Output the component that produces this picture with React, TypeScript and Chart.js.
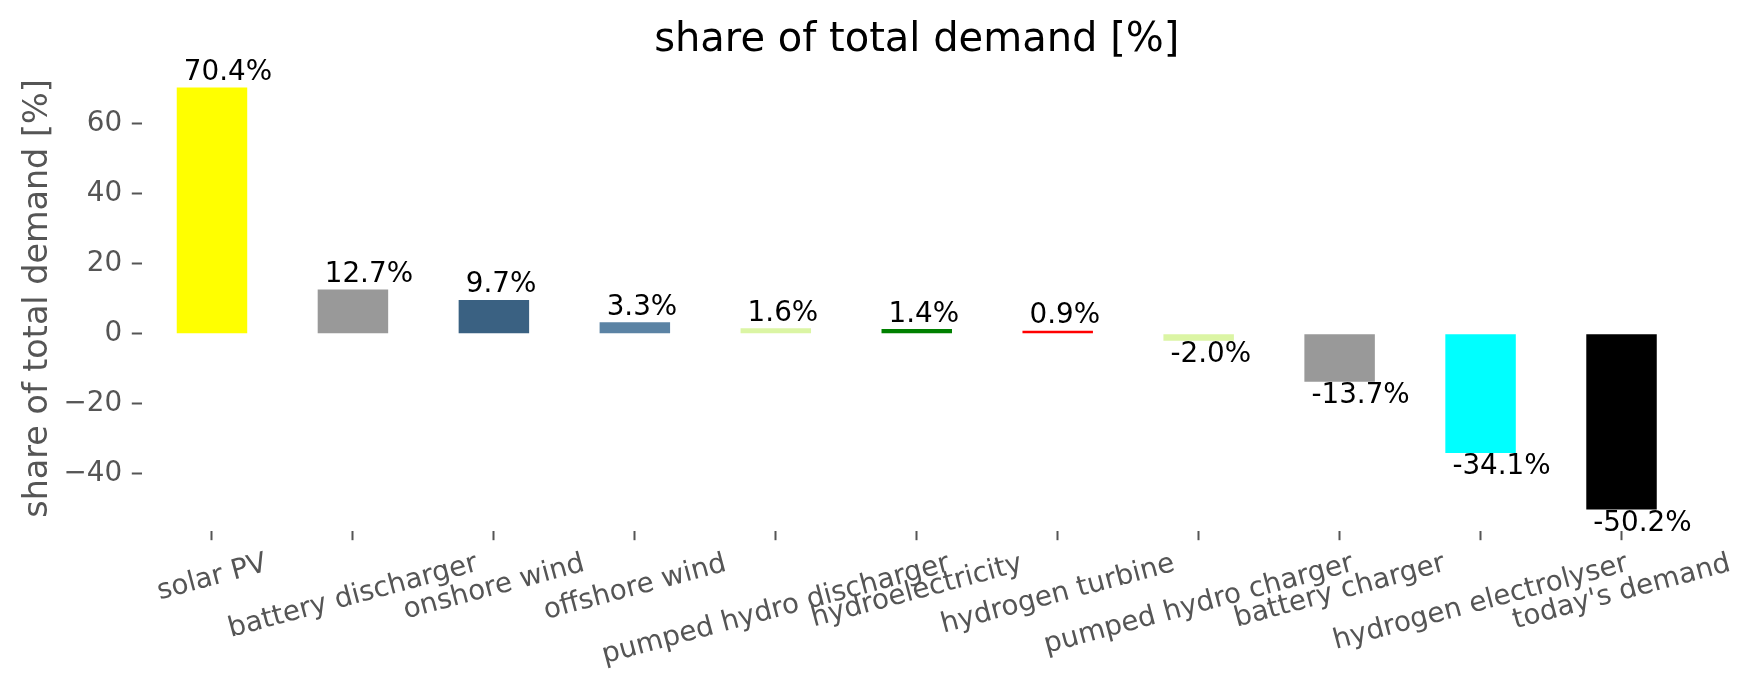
import React, { useEffect, useRef } from 'react';
import { Chart, registerables } from 'chart.js';

Chart.register(...registerables);

const categories = [
  'solar PV',
  'battery discharger',
  'onshore wind',
  'offshore wind',
  'pumped hydro discharger',
  'hydroelectricity',
  'hydrogen turbine',
  'pumped hydro charger',
  'battery charger',
  'hydrogen electrolyser',
  "today's demand",
];
const shares = [70.4, 12.7, 9.7, 3.3, 1.6, 1.4, 0.9, -2.0, -13.7, -34.1, -50.2];
const barColors = [
  '#ffff00',
  '#999999',
  '#3a6182',
  '#5b83a4',
  '#dbf5a4',
  '#008000',
  '#ff0000',
  '#dbf5a4',
  '#999999',
  '#00ffff',
  '#000000',
];
const yTicks = [-40, -20, 0, 20, 40, 60];
const titleText = 'share of total demand [%]';
const yTitleText = 'share of total demand [%]';

const W = 1753;
const H = 689;
const FONT = '"DejaVu Sans", "Liberation Sans", sans-serif';
const GRAY = '#555555';
const TICK_SIZE = 27.8;
const ANNOT_SIZE = 27.8;

const textPlugin = {
  id: 'mplText',
  afterDraw(chart: any) {
    const ctx: CanvasRenderingContext2D = chart.ctx;
    const area = chart.chartArea;
    const xs = chart.scales.x;
    ctx.save();

    // title
    ctx.fillStyle = '#000000';
    ctx.font = `40px ${FONT}`;
    ctx.textAlign = 'center';
    ctx.textBaseline = 'alphabetic';
    ctx.fillText(titleText, (area.left + area.right) / 2, area.top - 16);

    // y-axis title
    ctx.save();
    ctx.fillStyle = GRAY;
    ctx.font = `33.4px ${FONT}`;
    ctx.translate(47, (area.top + area.bottom) / 2);
    ctx.rotate(-Math.PI / 2);
    ctx.textAlign = 'center';
    ctx.fillText(yTitleText, 0, 0);
    ctx.restore();

    // x tick labels, rotated 15deg, bbox centred on tick (matplotlib style)
    const S = TICK_SIZE;
    const theta = (15 * Math.PI) / 180;
    const h = 0.97 * S;
    const d = 0.21 * S;
    const y0 = area.bottom + 19.5;
    ctx.font = `${S}px ${FONT}`;
    ctx.fillStyle = GRAY;
    categories.forEach((lab, i) => {
      const tx = xs.getPixelForTick(i);
      const w = ctx.measureText(lab).width;
      const bh = w * Math.sin(theta) + h * Math.cos(theta);
      ctx.save();
      ctx.translate(tx, y0 + bh / 2);
      ctx.rotate(-theta);
      ctx.textAlign = 'center';
      ctx.fillText(lab, 0, h / 2 - d);
      ctx.restore();
    });

    // bar value annotations
    const meta = chart.getDatasetMeta(0);
    const catW = xs.getPixelForTick(1) - xs.getPixelForTick(0);
    ctx.font = `${ANNOT_SIZE}px ${FONT}`;
    ctx.fillStyle = '#000000';
    ctx.textAlign = 'left';
    meta.data.forEach((el: any, i: number) => {
      const p = el.getProps(['x', 'y', 'base', 'width'], true);
      const v = shares[i];
      const left = p.x - p.width / 2 + 0.05 * catW;
      const y = v >= 0 ? p.y - 7.4 : p.y + 0.76 * ANNOT_SIZE;
      ctx.fillText(`${v.toFixed(1)}%`, left, y);
    });

    ctx.restore();
  },
};

export default function App() {
  const ref = useRef<HTMLCanvasElement | null>(null);

  useEffect(() => {
    if (!ref.current) return;
    const lo = Math.min(0, ...shares);
    const hi = Math.max(0, ...shares);
    const pad = 0.05 * (hi - lo);

    const chart = new Chart(ref.current, {
      type: 'bar',
      data: {
        labels: categories,
        datasets: [
          {
            data: shares,
            backgroundColor: barColors,
            borderWidth: 0,
            barPercentage: 0.5,
            categoryPercentage: 1.0,
          },
        ],
      },
      options: {
        animation: false,
        responsive: false,
        devicePixelRatio: 1,
        layout: { padding: { top: 66.5, right: 61, left: 0, bottom: 0 } },
        plugins: {
          legend: { display: false },
          tooltip: { enabled: false },
          title: { display: false },
        },
        scales: {
          x: {
            offset: true,
            afterFit: (s: any) => {
              s.height = H - 530.5;
            },
            grid: {
              offset: false,
              drawOnChartArea: false,
              drawTicks: true,
              tickLength: 9.7,
              tickWidth: 2,
              tickColor: GRAY,
            },
            border: { display: false },
            ticks: { display: false },
          },
          y: {
            min: lo - pad,
            max: hi + pad,
            afterBuildTicks: (s: any) => {
              s.ticks = yTicks.map((v) => ({ value: v }));
            },
            afterFit: (s: any) => {
              s.width = 141.5;
            },
            grid: {
              drawOnChartArea: false,
              drawTicks: true,
              tickLength: 9.7,
              tickWidth: 2,
              tickColor: GRAY,
            },
            border: { display: false },
            ticks: {
              padding: 9.7,
              color: GRAY,
              font: { family: FONT, size: TICK_SIZE },
              callback: (v: any) => String(v).replace('-', '\u2212'),
            },
          },
        },
      },
      plugins: [textPlugin],
    });
    return () => chart.destroy();
  }, []);

  return (
    <div style={{ position: 'absolute', left: 0, top: 0, width: W, height: H, background: '#ffffff' }}>
      <canvas ref={ref} width={W} height={H} style={{ display: 'block', width: W, height: H }} />
    </div>
  );
}
